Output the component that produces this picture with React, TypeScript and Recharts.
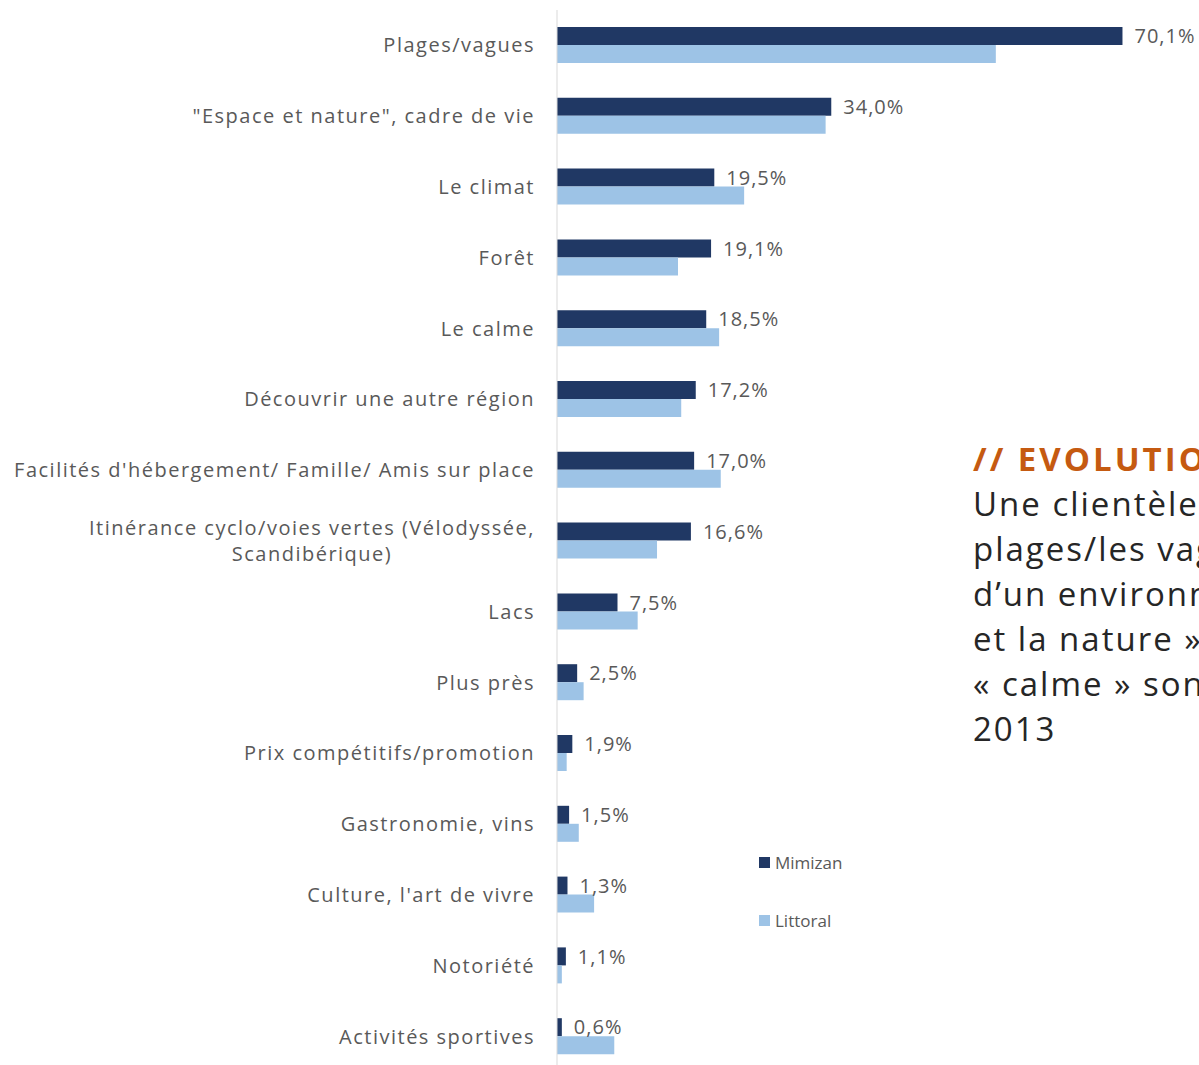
import { BarChart, Bar, XAxis, YAxis, LabelList } from "recharts";

const categories = [
  "Plages/vagues",
  "\"Espace et nature\", cadre de vie",
  "Le climat",
  "Forêt",
  "Le calme",
  "Découvrir une autre région",
  "Facilités d'hébergement/ Famille/ Amis sur place",
  "Itinérance cyclo/voies vertes (Vélodyssée,|Scandibérique)",
  "Lacs",
  "Plus près",
  "Prix compétitifs/promotion",
  "Gastronomie, vins",
  "Culture, l'art de vivre",
  "Notoriété",
  "Activités sportives",
];
const mimizan = [70.1, 34.0, 19.5, 19.1, 18.5, 17.2, 17.0, 16.6, 7.5, 2.5, 1.9, 1.5, 1.3, 1.1, 0.6];
const littoral = [54.4, 33.3, 23.2, 15.0, 20.1, 15.4, 20.3, 12.4, 10.0, 3.3, 1.2, 2.7, 4.6, 0.6, 7.1];

const data = categories.map((c, i) => ({ name: c, mimizan: mimizan[i], littoral: littoral[i] }));

const FONT = "'Open Sans', sans-serif";
const GRAY = "#595959";
const DARK = "#203864";
const LIGHT = "#9DC3E6";
const LS = 1.5; // letter spacing to approximate the wide original face

let ctx: CanvasRenderingContext2D | null = null;
function textWidth(t: string) {
  if (!ctx) ctx = document.createElement("canvas").getContext("2d");
  if (!ctx) return t.length * 11;
  ctx.font = `20px ${FONT}`;
  return ctx.measureText(t).width + t.length * LS;
}

const CatTick = (props: any) => {
  const { x, y, payload } = props;
  const lines = String(payload.value).split("|");
  if (lines.length === 1) {
    return (
      <text x={x} y={y} dy="0.35em" textAnchor="end" fill={GRAY} fontSize={20} fontFamily={FONT} letterSpacing={LS}>
        {lines[0]}
      </text>
    );
  }
  const cx = x - textWidth(lines[0]) / 2;
  return (
    <text x={cx} y={y} textAnchor="middle" fill={GRAY} fontSize={20} fontFamily={FONT} letterSpacing={LS}>
      <tspan x={cx} dy="-0.3em">{lines[0]}</tspan>
      <tspan x={cx} dy="1.3em">{lines[1]}</tspan>
    </text>
  );
};

const fmt = (v: any) => Number(v).toFixed(1).replace(".", ",") + "%";

export default function App() {
  return (
    <div style={{ position: "absolute", left: 0, top: 0, width: 1199, height: 1065, overflow: "hidden", background: "#fff" }}>
      <BarChart
        width={1199}
        height={1080}
        data={data}
        layout="vertical"
        margin={{ top: 10, right: 37, bottom: 8, left: 0 }}
        barGap={0}
        barSize={18}
      >
        <XAxis type="number" domain={[0, 75]} hide />
        <YAxis
          type="category"
          dataKey="name"
          width={557}
          tickSize={0}
          tickMargin={22}
          tickLine={false}
          axisLine={{ stroke: "#d9d9d9" }}
          tick={<CatTick />}
          interval={0}
        />
        <Bar dataKey="mimizan" name="Mimizan" fill={DARK} isAnimationActive={false}>
          <LabelList
            dataKey="mimizan"
            position="right"
            offset={12}
            formatter={fmt}
            fill={GRAY}
            fontSize={20}
            fontFamily={FONT}
            letterSpacing={1}
          />
        </Bar>
        <Bar dataKey="littoral" name="Littoral" fill={LIGHT} isAnimationActive={false} />
      </BarChart>
      <div style={{ position: "absolute", left: 759, top: 850, fontFamily: FONT, fontSize: 17, color: GRAY }}>
        {[
          ["Mimizan", DARK],
          ["Littoral", LIGHT],
        ].map(([n, c], i) => (
          <div key={n} style={{ display: "flex", alignItems: "center", height: 24, marginBottom: i === 0 ? 34 : 0 }}>
            <span style={{ width: 11, height: 11, background: c, display: "inline-block", marginRight: 5 }} />
            {n}
          </div>
        ))}
      </div>
      <div
        style={{
          position: "absolute",
          left: 973,
          top: 436,
          whiteSpace: "nowrap",
          fontFamily: FONT,
          color: "#262626",
          fontSize: 33,
          lineHeight: "45px",
          letterSpacing: 2,
        }}
      >
        <div style={{ color: "#C55A11", fontWeight: 700, letterSpacing: 3 }}>// EVOLUTION</div>
        <div>Une clientèle plus attirée par les</div>
        <div>plages/les vagues, à la recherche</div>
        <div>d’un environnement « l’espace</div>
        <div>et la nature », le climat et le</div>
        <div>« calme » sont en hausse depuis</div>
        <div>2013</div>
      </div>
    </div>
  );
}
